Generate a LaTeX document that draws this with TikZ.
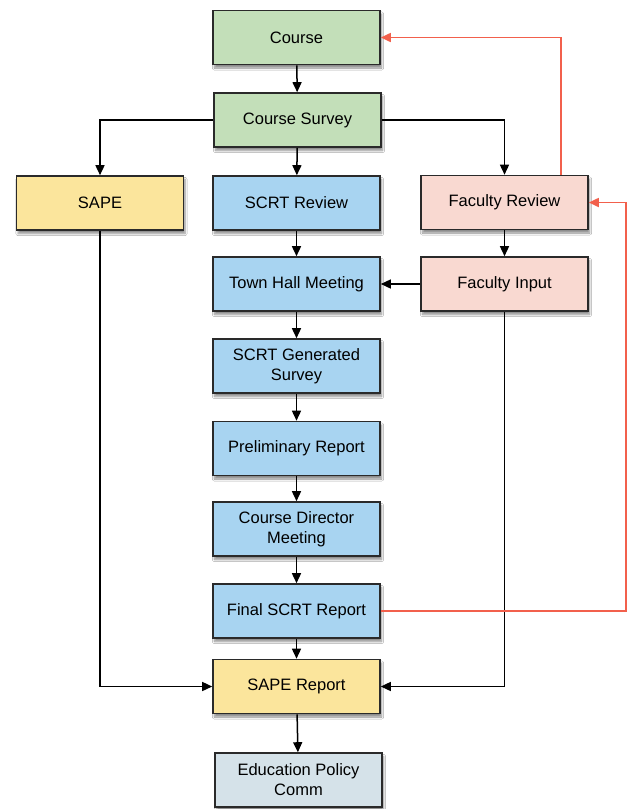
\documentclass[tikz,border=0pt]{standalone}
\usepackage{fontspec}
\setmainfont{Liberation Sans}
\usetikzlibrary{arrows.meta,shadows.blur}
\definecolor{cgreen}{HTML}{C3DFB9}
\definecolor{cyellow}{HTML}{FBE59C}
\definecolor{cblue}{HTML}{A8D4F1}
\definecolor{cpink}{HTML}{F9D9D1}
\definecolor{cgray}{HTML}{D5E2E9}
\definecolor{cred}{HTML}{F2604C}
\definecolor{cedge}{HTML}{2A2A2A}
\tikzset{
  box/.style={draw=cedge, line width=1.6pt, minimum width=167pt, minimum height=54pt, align=center,
    font=\fontsize{16.5}{20}\selectfont, inner sep=2pt,
    blur shadow={shadow xshift=1.5pt, shadow yshift=-3.5pt, shadow blur steps=6, shadow opacity=45}},
  arr/.style={draw=black, line width=1.5pt, -{Triangle[length=10pt,width=9pt]}},
  rarr/.style={draw=cred, line width=1.7pt, -{Triangle[length=10pt,width=9pt]}}
}
\begin{document}
\begin{tikzpicture}[x=1pt,y=-1pt]
\useasboundingbox[fill=white] (0,0) rectangle (630,809);
\node[box, fill=cgreen] (course) at (296.5,37.5) {Course};
\node[box, fill=cgreen] (cs) at (297.5,120) {Course Survey};
\node[box, fill=cyellow] (sape) at (100,203) {SAPE};
\node[box, fill=cblue] (sr) at (296.5,203) {SCRT Review};
\node[box, fill=cpink] (fr) at (504.5,202.5) {Faculty Review};
\node[box, fill=cblue] (th) at (296.5,284) {Town Hall Meeting};
\node[box, fill=cpink] (fi) at (504.5,284) {Faculty Input};
\node[box, fill=cblue] (sg) at (296.5,366) {SCRT Generated\\Survey};
\node[box, fill=cblue] (pr) at (296.5,448.5) {Preliminary Report};
\node[box, fill=cblue] (cd) at (296.5,529) {Course Director\\Meeting};
\node[box, fill=cblue] (fs) at (296.5,611) {Final SCRT Report};
\node[box, fill=cyellow] (srp) at (296.5,686.5) {SAPE Report};
\node[box, fill=cgray] (ep) at (298.5,780) {Education Policy\\Comm};
\coordinate (rt) at (626,0);
\coordinate (up) at (561,0);

\draw[arr] (course) -- (cs);
\draw[arr] (cs.west) -| (sape.north);
\draw[arr] (cs.east) -| (fr.north);
\draw[arr] (cs) -- (sr);
\draw[arr] (sr) -- (th);
\draw[arr] (fr) -- (fi);
\draw[arr] (fi) -- (th);
\draw[arr] (th) -- (sg);
\draw[arr] (sg) -- (pr);
\draw[arr] (pr) -- (cd);
\draw[arr] (cd) -- (fs);
\draw[arr] (fs) -- (srp);
\draw[arr] (srp) -- (ep);
\draw[arr] (sape.south) |- (srp.west);
\draw[arr] (fi.south) |- (srp.east);
\draw[rarr] (fr.north -| up) |- (course.east);
\draw[rarr] (fs.east) -- (fs.east -| rt) |- (fr.east);
\end{tikzpicture}
\end{document}
